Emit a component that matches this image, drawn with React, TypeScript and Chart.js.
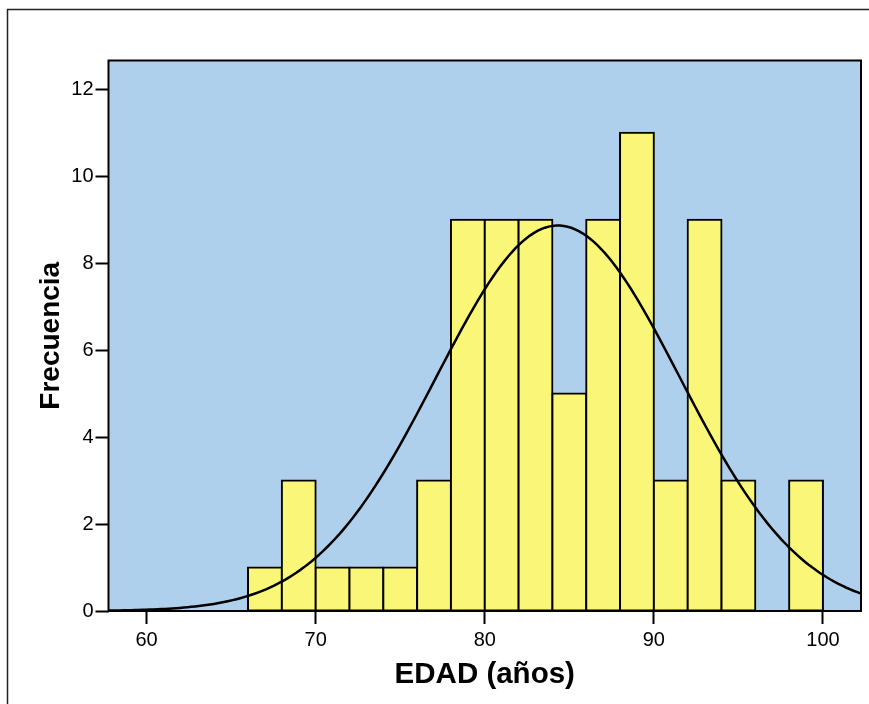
import React, { useEffect, useRef } from "react";
import { Chart, registerables } from "chart.js";

Chart.register(...registerables);

// Histogram bins (age, 2-year width): bin centers and frequencies
const BIN_CENTERS = [67, 69, 71, 73, 75, 77, 79, 81, 83, 85, 87, 89, 91, 93, 95, 97, 99];
const FREQUENCIES = [1, 3, 1, 1, 1, 3, 9, 9, 9, 5, 9, 11, 3, 9, 3, 0, 3];
const BIN_WIDTH = 2;

// Fitted normal curve parameters
const CURVE_MEAN = 84.33;
const CURVE_SD = 7.2;

const X_TICKS = [60, 70, 80, 90, 100];
const Y_TICKS = [0, 2, 4, 6, 8, 10, 12];
const X_MIN = 57.75;
const X_MAX = 102.25;
const Y_MAX = 12.66;

const X_TITLE = "EDAD (años)";
const Y_TITLE = "Frecuencia";

const FONT = "'Liberation Sans', Arial, Helvetica, sans-serif";
const PLOT_BG = "#AED0EC";
const BAR_FILL = "#FAF677";

export default function App() {
  const ref = useRef<HTMLCanvasElement | null>(null);

  useEffect(() => {
    document.body.style.margin = "0";
    const canvas = ref.current;
    if (!canvas) return;

    const total = FREQUENCIES.reduce((a, b) => a + b, 0);
    const curve: { x: number; y: number }[] = [];
    const steps = 200;
    for (let i = 0; i <= steps; i++) {
      const x = X_MIN + ((X_MAX - X_MIN) * i) / steps;
      const z = (x - CURVE_MEAN) / CURVE_SD;
      const y = (total * BIN_WIDTH * Math.exp(-0.5 * z * z)) / (CURVE_SD * Math.sqrt(2 * Math.PI));
      curve.push({ x, y });
    }

    const bgPlugin = {
      id: "bgFrame",
      beforeDatasetsDraw(chart: any) {
        const { ctx, chartArea } = chart;
        ctx.save();
        ctx.fillStyle = PLOT_BG;
        ctx.fillRect(chartArea.left, chartArea.top, chartArea.right - chartArea.left, chartArea.bottom - chartArea.top);
        ctx.restore();
      },
      afterDraw(chart: any) {
        const { ctx, chartArea } = chart;
        ctx.save();
        ctx.strokeStyle = "#000";
        ctx.lineWidth = 2;
        ctx.strokeRect(chartArea.left, chartArea.top, chartArea.right - chartArea.left, chartArea.bottom - chartArea.top);
        // outer frame
        ctx.strokeStyle = "#222";
        ctx.lineWidth = 1.5;
        ctx.beginPath();
        ctx.moveTo(7.5, 704);
        ctx.lineTo(7.5, 9.5);
        ctx.lineTo(869, 9.5);
        ctx.stroke();
        ctx.restore();
      },
    };

    const chart = new Chart(canvas, {
      type: "bar",
      data: {
        datasets: [
          {
            type: "line",
            data: curve,
            borderColor: "#000",
            borderWidth: 2.5,
            pointRadius: 0,
            tension: 0,
            order: 0,
          } as any,
          {
            type: "bar",
            data: BIN_CENTERS.map((c, i) => ({ x: c, y: FREQUENCIES[i] })),
            backgroundColor: BAR_FILL,
            borderColor: "#000",
            borderWidth: 2,
            borderSkipped: false,
            inflateAmount: 1,
            barPercentage: 1,
            categoryPercentage: 1,
            grouped: false,
            order: 1,
          } as any,
        ],
      },
      options: {
        responsive: false,
        animation: false,
        devicePixelRatio: 1,
        layout: { padding: { left: 0, top: 60.5, right: 8, bottom: 0 } },
        plugins: { legend: { display: false }, tooltip: { enabled: false } },
        scales: {
          x: {
            type: "linear",
            min: X_MIN,
            max: X_MAX,
            offset: false,
            afterBuildTicks: (scale: any) => {
              scale.ticks = X_TICKS.map((v) => ({ value: v }));
            },
            afterFit: (scale: any) => {
              scale.height = 704 - 611;
            },
            grid: {
              display: true,
              offset: false,
              drawOnChartArea: false,
              drawTicks: true,
              tickLength: 13,
              tickColor: "#000",
              tickWidth: 2,
            },
            border: { display: false },
            ticks: {
              color: "#000",
              padding: 4,
              maxRotation: 0,
              autoSkip: false,
              font: { family: FONT, size: 20 },
            },
            title: {
              display: true,
              text: X_TITLE,
              color: "#000",
              font: { family: FONT, size: 29.5, weight: "bold", lineHeight: 1 },
              padding: { top: 0, bottom: 14 },
            },
          },
          y: {
            type: "linear",
            min: 0,
            max: Y_MAX,
            afterBuildTicks: (scale: any) => {
              scale.ticks = Y_TICKS.map((v) => ({ value: v }));
            },
            afterFit: (scale: any) => {
              scale.width = 108.5;
            },
            grid: {
              display: true,
              drawOnChartArea: false,
              drawTicks: true,
              tickLength: 13,
              tickColor: "#000",
              tickWidth: 2,
            },
            border: { display: false },
            ticks: {
              color: "#000",
              padding: 2,
              autoSkip: false,
              font: { family: FONT, size: 20 },
            },
            title: {
              display: true,
              text: Y_TITLE,
              color: "#000",
              font: { family: FONT, size: 28, weight: "bold", lineHeight: 1 },
              padding: { top: 37, bottom: 0 },
            },
          },
        },
      } as any,
      plugins: [bgPlugin],
    });

    return () => chart.destroy();
  }, []);

  return <canvas ref={ref} width={869} height={704} style={{ display: "block", width: 869, height: 704 }} />;
}
